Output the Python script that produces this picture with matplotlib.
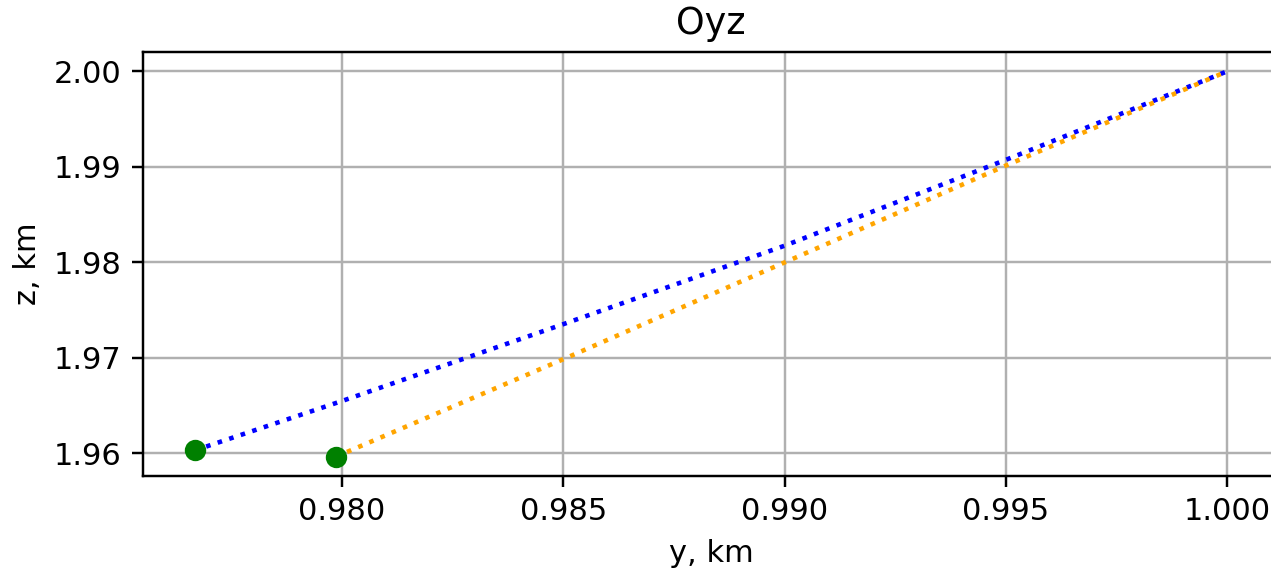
import matplotlib
matplotlib.use("Agg")
import matplotlib.pyplot as plt

# trajectories in the Oyz plane, km
y_blue = [0.97667, 0.980, 0.985, 0.990, 0.995, 1.0]
z_blue = [1.96028, 1.96546, 1.97351, 1.98173, 1.99073, 2.0]
y_orange = [0.97986, 0.985, 0.990, 0.995, 1.0]
z_orange = [1.95962, 1.96984, 1.97998, 1.99013, 2.0]

dpi = 220
fig = plt.figure(figsize=(1271 / dpi, 569 / dpi), dpi=dpi)
ax = fig.add_axes([143 / 1271, 93 / 569, 1136 / 1271, 424 / 569])

ax.plot(y_blue, z_blue, ':', color='blue')
ax.plot(y_orange, z_orange, ':', color='orange')
ax.plot(y_blue[0], z_blue[0], 'o', color='green')
ax.plot(y_orange[0], z_orange[0], 'o', color='green')

ax.set_xticks([0.980, 0.985, 0.990, 0.995, 1.000])
ax.set_yticks([1.96, 1.97, 1.98, 1.99, 2.00])
ax.grid(True)
ax.set_title('Oyz')
ax.set_xlabel('y, km')
ax.set_ylabel('z, km')

fig.savefig('out.png', dpi=dpi)
